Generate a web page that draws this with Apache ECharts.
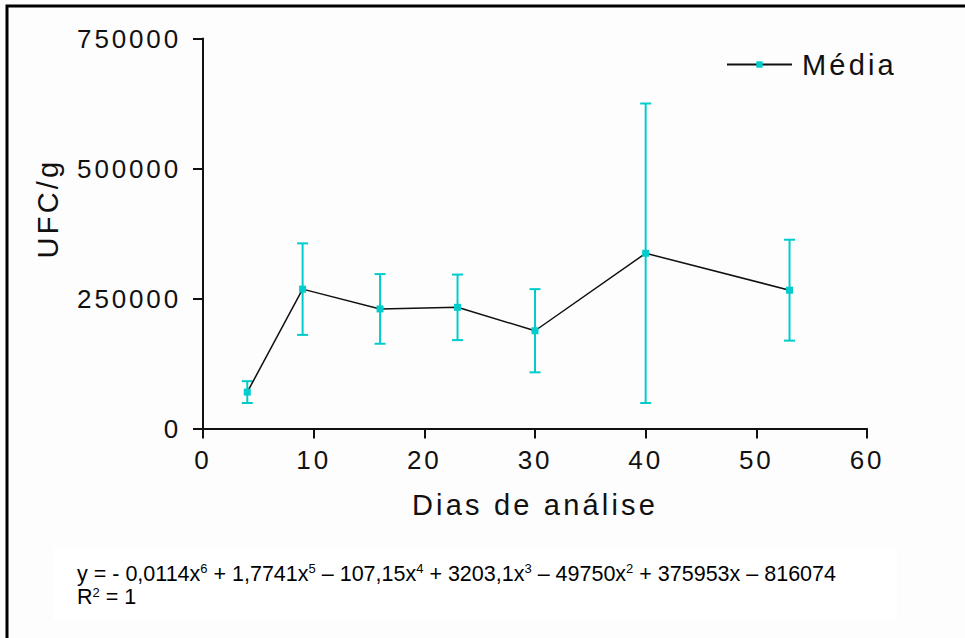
<!DOCTYPE html>
<html>
<head>
<meta charset="utf-8">
<script src="https://cdn.jsdelivr.net/npm/echarts@6/dist/echarts.min.js"></script>
<style>
  html, body { margin: 0; padding: 0; background: #fdfdfd; }
  #chart { width: 965px; height: 638px; }
  /* the axis and legend lettering is spaced out */
  #chart svg text[style*="Liberation Sans"],
  #chart svg text[font-family*="Liberation Sans"] { letter-spacing: 0.11em; }
</style>
</head>
<body>
<div id="chart"></div>
<script>
// Sampling days and colony counts (mean and standard deviation, UFC/g)
const days = [4, 9, 16, 23, 30, 40, 53];
const mediaUFC = [70000, 268000, 230000, 233000, 188000, 337000, 266000];
const desvioUFC = [21000, 88000, 67000, 63000, 80000, 288000, 97000];

// Axis ticks
const xTicks = [0, 10, 20, 30, 40, 50, 60];
const yTicks = [0, 250000, 500000, 750000];

// Trend-line equation printed under the chart
const eqTerms = [
  ['y = - 0,0114x', '6'],
  [' + 1,7741x', '5'],
  [' \u2013 107,15x', '4'],
  [' + 3203,1x', '3'],
  [' \u2013 49750x', '2'],
  [' + 375953x \u2013 816074', '']
];
const r2Label = ['R', '2', ' = 1'];

const TEAL = '#00CCCC';
const INK = '#111111';
const AXIS_FONT = 'Liberation Sans';

function richLine(parts) {
  return parts.map(([base, sup]) => '{n|' + base + '}' + (sup ? '{s|' + sup + '}' : '')).join('');
}
const eqText = richLine(eqTerms) + '\n' + '{n|' + r2Label[0] + '}{s|' + r2Label[1] + '}{n|' + r2Label[2] + '}';

const chart = echarts.init(document.getElementById('chart'), null, { renderer: 'svg' });

chart.setOption({
  animation: false,
  backgroundColor: '#fdfdfd',
  grid: { left: 203, right: 98, top: 38.5, bottom: 209.5, containLabel: false },
  legend: {
    data: ['Média'],
    left: 726,
    top: 50,
    padding: 0,
    itemWidth: 65,
    itemHeight: 8,
    textStyle: { fontFamily: AXIS_FONT, fontSize: 29, color: INK, padding: [0, 0, 0, 5] }
  },
  xAxis: {
    type: 'value',
    min: xTicks[0],
    max: xTicks[xTicks.length - 1],
    interval: xTicks[1] - xTicks[0],
    name: 'Dias de análise',
    nameLocation: 'middle',
    nameGap: 62,
    nameTextStyle: { fontFamily: AXIS_FONT, fontSize: 29, color: INK },
    axisLine: { show: true, onZero: false, lineStyle: { color: INK, width: 2 } },
    axisTick: { show: true, length: 10, lineStyle: { color: INK, width: 2 } },
    axisLabel: { fontFamily: AXIS_FONT, fontSize: 26, color: INK, margin: 18, formatter: v => String(v) },
    splitLine: { show: false }
  },
  yAxis: {
    type: 'value',
    min: yTicks[0],
    max: yTicks[yTicks.length - 1],
    interval: yTicks[1] - yTicks[0],
    name: 'UFC/g',
    nameLocation: 'middle',
    nameGap: 141,
    nameRotate: 90,
    nameTextStyle: { fontFamily: AXIS_FONT, fontSize: 29, color: INK, padding: [0, 0, 0, 50] },
    axisLine: { show: true, lineStyle: { color: INK, width: 2 } },
    axisTick: { show: true, length: 10, lineStyle: { color: INK, width: 2 } },
    axisLabel: { fontFamily: AXIS_FONT, fontSize: 26, color: INK, margin: 22, formatter: v => String(v) },
    splitLine: { show: false }
  },
  series: [
    {
      // standard deviation whiskers
      type: 'custom',
      name: 'Desvio',
      silent: true,
      z: 1,
      data: days.map((d, i) => [d, mediaUFC[i] - desvioUFC[i], mediaUFC[i] + desvioUFC[i]]),
      encode: { x: 0, y: [1, 2] },
      renderItem(params, api) {
        const x = api.value(0);
        const lo = api.coord([x, api.value(1)]);
        const hi = api.coord([x, api.value(2)]);
        const w = 5.5;
        const st = { stroke: TEAL, lineWidth: 2, fill: null };
        return {
          type: 'group',
          children: [
            { type: 'line', shape: { x1: lo[0], y1: lo[1], x2: hi[0], y2: hi[1] }, style: st },
            { type: 'line', shape: { x1: lo[0] - w, y1: lo[1], x2: lo[0] + w, y2: lo[1] }, style: st },
            { type: 'line', shape: { x1: hi[0] - w, y1: hi[1], x2: hi[0] + w, y2: hi[1] }, style: st }
          ]
        };
      }
    },
    {
      type: 'line',
      name: 'Média',
      z: 3,
      data: days.map((d, i) => [d, mediaUFC[i]]),
      symbol: 'rect',
      symbolSize: 7,
      showAllSymbol: true,
      lineStyle: { color: INK, width: 1.5 },
      itemStyle: { color: TEAL }
    }
  ],
  graphic: [
    {
      type: 'rect',
      z: -10,
      shape: { x: 53, y: 547, width: 844, height: 73 },
      style: { fill: '#ffffff' }
    },
    {
      type: 'text',
      z: 10,
      left: 77,
      top: 562,
      style: {
        text: eqText,
        fill: '#000',
        rich: {
          n: { fontFamily: 'Arial', fontSize: 21.5, lineHeight: 23.5, verticalAlign: 'middle' },
          s: { fontFamily: 'Arial', fontSize: 13, lineHeight: 10, verticalAlign: 'top' }
        }
      }
    },
    {
      type: 'rect',
      z: 20,
      silent: true,
      shape: { x: 7, y: 6, width: 1000, height: 700 },
      style: { fill: 'none', stroke: '#000', lineWidth: 3 }
    }
  ]
});
</script>
</body>
</html>
